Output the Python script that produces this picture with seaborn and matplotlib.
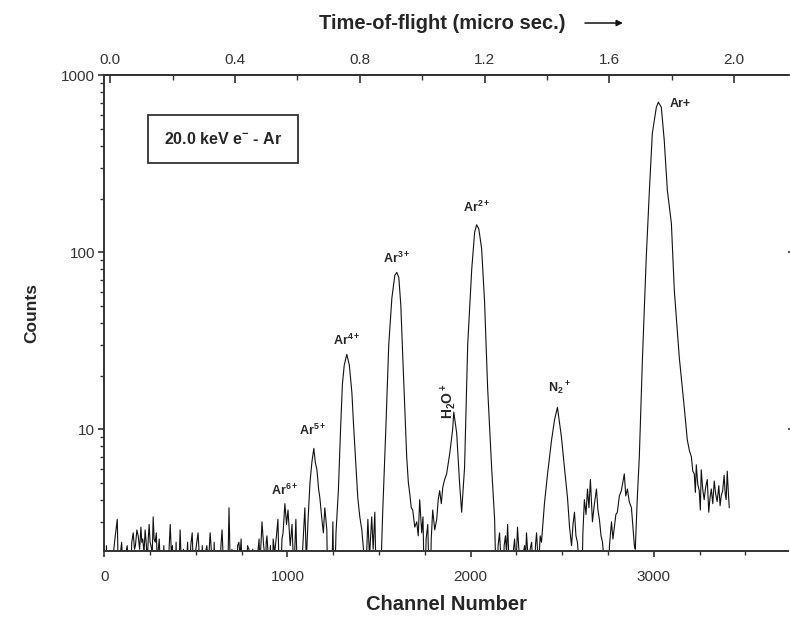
import matplotlib
matplotlib.use("Agg")
import matplotlib.pyplot as plt
import matplotlib.ticker as mticker
import seaborn as sns
import pandas as pd

# Traced spectrum (channel number, counts); values below 2 fall under the axis floor
channel = [0, 12, 20, 32, 40, 52, 60, 71, 80, 88, 95, 103, 110, 118, 125, 133, 140, 150, 158, 165,
           170, 178, 185, 193, 200, 205, 210, 217, 223, 230, 235, 240, 245, 250, 255, 262,
           267, 272, 278, 284, 290, 295, 300, 307, 315, 325, 335, 347, 360, 366, 372, 378, 385,
           392, 400, 407, 414, 420, 425, 432, 440, 448, 455, 460, 465, 472, 480, 485, 490, 500,
           512, 518, 525, 535, 545, 552, 560, 568, 578, 584, 590, 600, 610, 620, 630, 637, 643,
           650, 655, 662, 670, 676, 681, 686, 690, 697, 705, 712, 720, 728, 735, 741, 747, 752,
           758, 766, 775, 782, 790, 795, 800, 810, 820, 830, 840, 845, 850, 856, 861, 866, 870,
           875, 880, 884, 888, 894, 900, 907, 915, 922, 930, 940, 948,
           959, 970, 976, 986, 995, 1003, 1015, 1025, 1035, 1046, 1058, 1068, 1084, 1095, 1103,
           1112, 1123, 1134, 1144, 1152, 1161, 1170, 1177, 1188, 1196, 1204, 1215, 1221, 1240,
           1248, 1255, 1265, 1278, 1290, 1300, 1310, 1324, 1338, 1352, 1360, 1368, 1378, 1384,
           1395, 1406, 1415, 1422, 1439, 1448, 1460, 1468, 1477, 1485, 1495, 1504, 1520, 1537,
           1553, 1570, 1586, 1597, 1608, 1619, 1630, 1641, 1651, 1660, 1668, 1676, 1684, 1695,
           1706, 1714, 1722, 1733, 1740, 1749, 1757, 1766, 1777, 1785, 1793, 1804, 1815, 1823,
           1831, 1840, 1848, 1858, 1869, 1886, 1902, 1908, 1924, 1940, 1951,
           1967, 1984, 2006, 2022, 2033, 2045, 2060, 2076, 2093, 2115, 2131, 2142, 2150, 2158,
           2167, 2175, 2183, 2190, 2196, 2202, 2207, 2212, 2224, 2232, 2240, 2248, 2256, 2262,
           2268, 2278, 2287, 2295, 2300, 2305, 2312, 2318, 2325, 2333, 2340, 2348, 2354, 2360,
           2366, 2372, 2380, 2387, 2403, 2420, 2442, 2458, 2474, 2496, 2512, 2529, 2540, 2551,
           2559, 2567, 2575, 2583, 2595, 2605, 2613, 2621, 2630, 2638, 2646, 2654, 2665, 2676,
           2687, 2695, 2703, 2712, 2720, 2735, 2747, 2758, 2769, 2777, 2785, 2793, 2801, 2812,
           2823, 2831, 2839, 2847, 2856, 2866, 2878, 2886, 2894, 2899, 2910, 2921, 2938, 2959,
           2976, 2992, 3014, 3025, 3041, 3057, 3074, 3096, 3112, 3139, 3166, 3183, 3194, 3205,
           3213, 3221, 3227, 3232, 3240, 3248, 3254, 3259, 3267, 3275, 3283, 3292, 3300, 3307,
           3314, 3322, 3330, 3338, 3346, 3355, 3362, 3368, 3376, 3384, 3390, 3395, 3401, 3406,
           3412]
counts = [1, 2.2, 1, 1.6, 1, 2.1, 2.5, 3.1, 1, 2.0, 2.3, 1.4, 1, 2.0, 2.2, 1.7, 1, 2.3, 2.6, 2.1,
          2.2, 2.7, 2.5, 2.1, 2.8, 2.3, 2.4, 2.0, 2.7, 2.2, 1.8, 2.4, 2.9, 2.3, 2.2, 2.0,
          3.2, 2.4, 2.3, 2.6, 1.7, 2.1, 2.4, 1.6, 1, 2.2, 1, 1.5, 2.9, 2.0, 2.2, 1.5, 1,
          2.3, 1, 1.6, 2.7, 1.8, 1, 2.1, 1, 1.7, 2.3, 1.5, 1, 2.2, 2.6, 1.8, 1, 2.1,
          2.6, 2.0, 1, 2.2, 1, 2.0, 2.2, 1.7, 2.6, 2.1, 1, 2.3, 1, 1.7, 1.5, 2.2, 2.7,
          1.8, 1, 2.0, 1.2, 1.9, 3.6, 2.0, 1, 2.1, 1, 1.7, 1, 2.2, 2.3, 1.9, 2.4, 1.6,
          1, 2.0, 1, 2.2, 2.1, 1.7, 1, 2.1, 1, 1.8, 2.1, 2.4, 1.7, 2.3, 3.0, 2.5, 2.2,
          2.0, 1.5, 2.3, 2.5, 2.0, 1.6, 2.2, 1, 2.4, 2.0, 2.5, 3.1,
          1, 2.4, 2.6, 3.8, 2.9, 3.5, 2.2, 2.9, 1.5, 3.1, 1, 1, 2.2, 3.6, 1.8,
          3.0, 5.0, 6.6, 7.8, 6.5, 5.9, 4.6, 4.1, 3.1, 2.6, 3.6, 2.7, 1, 1,
          3.0, 1, 2.6, 4.5, 10, 18, 23, 26.5, 23, 16, 11, 7.9, 5.2, 4.1,
          3.2, 2.7, 2.1, 1, 3.1, 1.9, 3.2, 2.1, 3.4, 1.2, 1, 1, 3.4, 10,
          30, 55, 74, 77, 72, 50, 25, 13, 7, 5.0, 4.3, 3.6, 3.5, 2.8,
          3.0, 2.5, 4.0, 2.6, 3.2, 1, 2.4, 2.9, 1, 2.4, 3.5, 2.7, 3.1, 4.0,
          4.5, 3.8, 4.7, 5.2, 5.6, 7.3, 10, 12.5, 9.5, 4.9, 3.4,
          6.1, 30, 80, 130, 143, 135, 105, 53, 17, 6.0, 3.1, 1, 2.2, 2.6,
          1.7, 1, 2.2, 2.5, 2.0, 2.9, 2.1, 1.5, 1, 2.0, 2.4, 1.7, 2.8, 2.2,
          1.8, 1, 2.0, 2.2, 1.8, 2.6, 2.0, 1.6, 2.1, 2.3, 1.7, 1.5, 2.2, 2.6,
          2.0, 1.8, 2.5, 2.3, 3.8, 5.6, 8.7, 11.3, 13.3, 9.0, 6.1, 4.1, 2.8, 2.2,
          2.9, 3.4, 2.5, 2.3, 1.6, 1, 2.6, 4.0, 3.3, 4.6, 3.6, 5.2, 3.0, 3.8,
          4.6, 3.5, 3.1, 2.5, 2.3, 1.5, 1, 2.2, 3.0, 2.4, 2.8, 3.3, 3.4, 4.2,
          4.5, 5.0, 5.6, 4.2, 4.6, 3.9, 3.6, 2.8, 2.2, 2.1, 4.1, 7, 25, 94,
          224, 470, 660, 705, 660, 430, 224, 146, 61, 25.6, 13.4, 8.7, 7.6, 7,
          5.8, 5.6, 4.4, 6.3, 4.9, 4.5, 3.5, 5.9, 4.6, 4.0, 4.7, 5.2, 3.4, 4.1,
          4.6, 3.8, 5.1, 4.3, 3.9, 4.8, 3.7, 4.2, 4.5, 5.5, 4.3, 4.0, 5.8, 4.6,
          3.6]

# Peak labels
peak_labels = [r"Ar$^{6+}$", r"Ar$^{5+}$", r"Ar$^{4+}$", r"Ar$^{3+}$", r"Ar$^{2+}$", r"N$_2$$^+$", "Ar+"]
peak_label_ch = [986, 1139, 1324, 1597, 2033, 2485, 3085]
peak_label_ct = [4.5, 9.9, 31.8, 92.5, 180, 17.0, 690]

x_ticks = [0, 1000, 2000, 3000]
y_ticks = [10, 100, 1000]
tof_ticks = [0.0, 0.4, 0.8, 1.2, 1.6, 2.0]

sns.set_style("ticks")
plt.rcParams["font.family"] = ["Liberation Sans", "DejaVu Sans"]
plt.rcParams["mathtext.fontset"] = "custom"
plt.rcParams["mathtext.rm"] = "Liberation Sans:bold"
plt.rcParams["mathtext.it"] = "Liberation Sans:bold"
plt.rcParams["mathtext.bf"] = "Liberation Sans:bold"

fig = plt.figure(figsize=(7.9, 6.22), dpi=100)
ax = fig.add_axes([0.132, 0.114, 0.866, 0.765])

df = pd.DataFrame({"channel": channel, "counts": counts})
sns.lineplot(data=df, x="channel", y="counts", ax=ax, color="#111111",
             linewidth=0.8, estimator=None, sort=False)

ax.set_yscale("log")
ax.set_xlim(0, 3735)
ax.set_ylim(2.05, 1000)

ax.set_xticks(x_ticks)
ax.xaxis.set_minor_locator(mticker.MultipleLocator(250))
ax.set_yticks(y_ticks)
ax.yaxis.set_major_formatter(mticker.FuncFormatter(lambda v, p: f"{int(v)}"))
ax.yaxis.set_minor_locator(mticker.LogLocator(base=10, subs=range(2, 10)))
ax.yaxis.set_minor_formatter(mticker.NullFormatter())

ax.tick_params(axis="both", which="major", direction="out", length=4.5, width=1.2,
               labelsize=11, colors="#333333", labelcolor="#333333")
ax.tick_params(axis="both", which="minor", direction="out", length=3, width=1.0, colors="#333333")
ax.tick_params(axis="x", which="major", pad=9)
ax.tick_params(axis="y", which="major", pad=2)
ax.tick_params(axis="y", which="major", right=True, labelright=False)
ax.tick_params(axis="y", which="minor", right=False)

for side in ["left", "bottom", "top"]:
    ax.spines[side].set_linewidth(1.4)
    ax.spines[side].set_color("#333333")
ax.spines["right"].set_visible(False)

ax.set_xlabel("Channel Number", fontsize=14.5, fontweight="bold", labelpad=8)
ax.set_ylabel("Counts", fontsize=12.5, fontweight="bold", labelpad=16)

# Top time-of-flight axis
ch_per_us = 1703.0
ch0 = 33.0
top = ax.secondary_xaxis("top", functions=(lambda c: (c - ch0) / ch_per_us,
                                           lambda t: t * ch_per_us + ch0))
top.set_xticks(tof_ticks)
top.xaxis.set_major_formatter(mticker.FormatStrFormatter("%.1f"))
top.xaxis.set_minor_locator(mticker.MultipleLocator(0.2))
top.tick_params(which="major", direction="in", length=6, width=1.2, labelsize=11,
                colors="#333333", labelcolor="#333333", pad=6)
top.tick_params(which="minor", direction="in", length=3.5, width=1.0, colors="#333333")
top.spines["top"].set_linewidth(1.4)
top.spines["top"].set_color("#333333")

fig.text(0.56, 0.963, "Time-of-flight (micro sec.)", ha="center", va="center",
         fontsize=14.5, fontweight="bold")
fig.add_artist(matplotlib.patches.FancyArrowPatch(
    (0.737, 0.963), (0.792, 0.963), transform=fig.transFigure,
    arrowstyle="-|>", mutation_scale=9, linewidth=1.1, color="#111111"))

for lab, xc, yc in zip(peak_labels, peak_label_ch, peak_label_ct):
    ha = "left" if lab == "Ar+" else "center"
    ax.text(xc, yc, lab, ha=ha, va="center", fontsize=9, fontweight="bold")

ax.text(1880, 14.5, r"H$_2$O$^+$", rotation=90, ha="center", va="center",
        fontsize=10, fontweight="bold")

ax.text(0.174, 0.866, "20.0 keV e$^{-}$ - Ar", transform=ax.transAxes, ha="center",
        va="center", fontsize=11.5, fontweight="bold",
        bbox=dict(boxstyle="square,pad=1.0", facecolor="white", edgecolor="#333333", linewidth=1.3))

fig.savefig("out.png", dpi=100)
